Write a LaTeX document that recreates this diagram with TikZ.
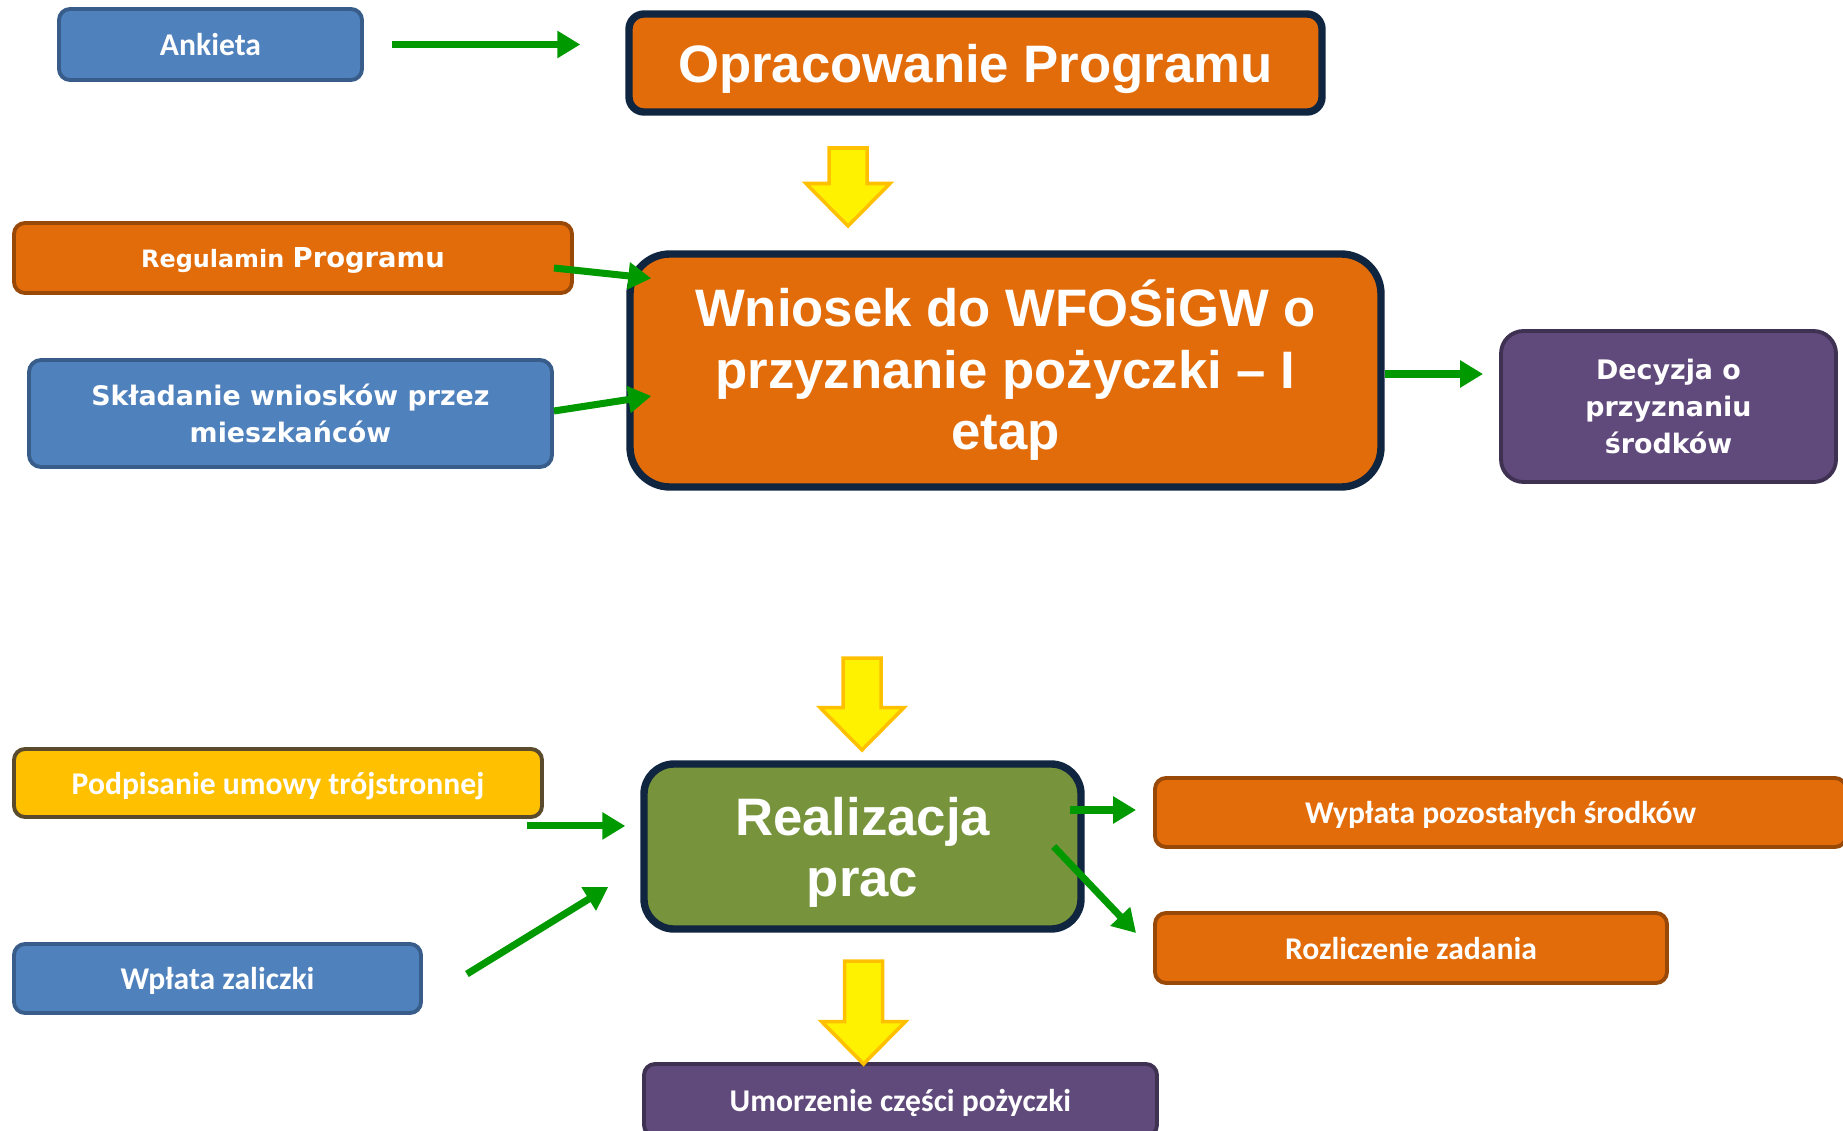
\documentclass[tikz,border=0pt]{standalone}
\usepackage{fontspec}
\usepackage{tikz}
\usetikzlibrary{arrows.meta,calc}
\newfontfamily\calibri{Carlito}
\newfontfamily\arial{Liberation Sans}
\newfontfamily\tahoma{DejaVu Sans}
\definecolor{blueFill}{HTML}{4F81BD}
\definecolor{blueLine}{HTML}{385D8A}
\definecolor{orangeFill}{HTML}{E36C0A}
\definecolor{orangeLine}{HTML}{984807}
\definecolor{navyLine}{HTML}{10253F}
\definecolor{purpleFill}{HTML}{604A7B}
\definecolor{purpleLine}{HTML}{3F3151}
\definecolor{greenFill}{HTML}{77933C}
\definecolor{goldFill}{HTML}{FFC000}
\definecolor{goldLine}{HTML}{594B2B}
\definecolor{arrowGreen}{HTML}{009900}
\tikzset{
  smallbox/.style={rounded corners=0.22cm, line width=2.2pt, text=white, inner sep=2pt, align=center,
    text depth=0pt, font=\calibri\bfseries\fontsize{18}{21}\selectfont},
  bluebox/.style={smallbox, fill=blueFill, draw=blueLine},
  orangebox/.style={smallbox, fill=orangeFill, draw=orangeLine},
  purplebox/.style={smallbox, fill=purpleFill, draw=purpleLine},
  goldbox/.style={smallbox, fill=goldFill, draw=goldLine},
  widebox/.style={font=\tahoma\bfseries\fontsize{15.3}{21}\selectfont},
  bigbox/.style={line width=4.2pt, draw=navyLine, text=white, inner sep=2pt, align=center,
    font=\arial\bfseries\fontsize{30}{35}\selectfont},
  garrow/.style={draw=arrowGreen, line width=4pt, -{Triangle[length=0.46cm,width=0.52cm]}},
  bigarrow/.style={fill=yellow, draw=goldFill, line width=2pt, line join=miter}
}
\def\fatarrow(#1,#2,#3){\draw[bigarrow] (#1-0.38,#2) -- (#1+0.38,#2) -- (#1+0.38,#3+0.85) -- (#1+0.84,#3+0.85) -- (#1,#3) -- (#1-0.84,#3+0.85) -- (#1-0.38,#3+0.85) -- cycle;}

\begin{document}
\begin{tikzpicture}
	%%%%% START %%%%%
	\useasboundingbox (0,0) rectangle (36.86,-22.6);
	
	% first stage
	\node[bluebox, minimum width=6.06cm, minimum height=1.42cm] (ankieta) at (4.21,-0.89) {Ankieta};
	\node[bigbox, rounded corners=0.3cm, fill=orangeFill, text depth=0pt, minimum width=13.86cm, minimum height=1.96cm] (program) at (19.51,-1.26) {Opracowanie Programu};
	\node[orangebox, minimum width=11.16cm, minimum height=1.40cm, font=\tahoma\bfseries] (regulamin) at (5.86,-5.16) {\fontsize{13.6}{16}\selectfont Regulamin {\fontsize{15.6}{16}\selectfont Programu}};
	\node[bigbox, rounded corners=0.8cm, fill=orangeFill, minimum width=15.02cm, minimum height=4.66cm] (wniosek) at (20.11,-7.41) {Wniosek do WFOŚiGW o\\przyznanie pożyczki – I\\etap};
	\node[bluebox, widebox, rounded corners=0.24cm, minimum width=10.46cm, minimum height=2.14cm] (skladanie) at (5.81,-8.27) {Składanie wniosków przez\\mieszkańców};
	\node[purplebox, widebox, rounded corners=0.45cm, minimum width=6.70cm, minimum height=3.02cm] (decyzja) at (33.37,-8.13) {Decyzja o\\przyznaniu\\środków};
	
	% second stage
	\node[bigbox, rounded corners=0.6cm, fill=greenFill, text depth=0pt, minimum width=8.74cm, minimum height=3.30cm, font=\arial\bfseries\fontsize{30}{34.6}\selectfont] (realizacja) at (17.25,-16.93) {Realizacja\\prac};
	\node[goldbox, minimum width=10.56cm, minimum height=1.36cm] (podpisanie) at (5.56,-15.66) {Podpisanie umowy trójstronnej};
	\node[bluebox, minimum width=8.14cm, minimum height=1.38cm] (wplata) at (4.35,-19.57) {Wpłata zaliczki};
	\node[orangebox, minimum width=13.82cm, minimum height=1.38cm] (wyplata) at (30.01,-16.25) {Wypłata pozostałych środków};
	\node[orangebox, minimum width=10.24cm, minimum height=1.40cm] (rozliczenie) at (28.22,-18.96) {Rozliczenie zadania};
	\node[purplebox, minimum width=10.26cm, minimum height=1.44cm] (umorzenie) at (18.01,-22.0) {Umorzenie części pożyczki};
	
	% yellow arrows
	\fatarrow(16.96,-2.96,-4.52);
	\fatarrow(17.24,-13.16,-15.0);
	\fatarrow(17.27,-19.22,-21.28);
	
	% green arrows
	\draw[garrow] ($(ankieta.east)+(0.56,0)$) -- ($(ankieta.east -| program.west)+(-0.9,0)$);
	\draw[garrow] ($(regulamin.east)+(-0.4,-0.2)$) -- ($(wniosek.north west)+(0.5,-0.56)$);
	\draw[garrow] ($(skladanie.east)+(0,0.05)$) -- ($(wniosek.west)+(0.5,-0.51)$);
	\draw[garrow] ($(wniosek.east)+(0,-0.07)$) -- ($(wniosek.east -| decyzja.west)+(-0.32,-0.07)$);
	\draw[garrow] ($(podpisanie.south east)+(-0.34,-0.14)$) -- ($(podpisanie.south east -| realizacja.west)+(-0.3,-0.14)$);
	\draw[garrow] ($(wplata.east)+(0.88,0.09)$) -- ($(realizacja.west)+(-0.64,-0.81)$);
	\draw[garrow] ($(realizacja.east)+(-0.3,0.73)$) -- ($(wyplata.west)+(-0.34,0.05)$);
	\draw[garrow] ($(realizacja.east)+(-0.62,0)$) -- ($(rozliczenie.west)+(-0.34,0.3)$);
	
	%%%%% END %%%%%
\end{tikzpicture}
\end{document}
